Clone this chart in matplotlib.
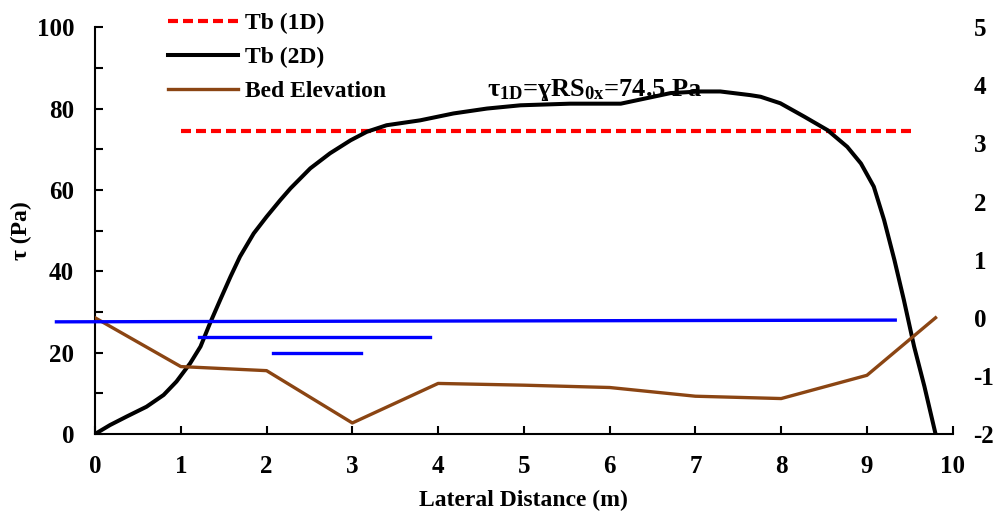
import matplotlib
matplotlib.use("Agg")
import matplotlib.pyplot as plt
from matplotlib.ticker import MultipleLocator

plt.rcParams["font.family"] = ["Liberation Serif", "DejaVu Serif"]
plt.rcParams["font.weight"] = "bold"
plt.rcParams["axes.unicode_minus"] = False
plt.rcParams["mathtext.fontset"] = "custom"
plt.rcParams["mathtext.rm"] = "Liberation Serif:bold"
plt.rcParams["mathtext.it"] = "Liberation Serif:bold"
plt.rcParams["mathtext.bf"] = "Liberation Serif:bold"

# Tb (2D): shear stress across the section (left axis, Pa)
x_2d = [0, 0.175, 0.37, 0.6, 0.8, 0.95, 1.11, 1.23, 1.34, 1.46, 1.58, 1.69, 1.85,
        2.0, 2.16, 2.28, 2.51, 2.74, 2.98, 3.17, 3.4, 3.79, 4.18, 4.57, 4.96,
        5.54, 6.13, 6.51, 6.71, 7.06, 7.29, 7.64, 7.76, 7.99, 8.27, 8.54, 8.77,
        8.93, 9.08, 9.2, 9.32, 9.43, 9.55, 9.67, 9.8]
tau_2d = [0, 2.2, 4.3, 6.7, 9.6, 12.9, 17.4, 21.5, 27.2, 33, 38.7, 43.6, 49.3,
          53.4, 57.5, 60.4, 65.3, 69, 72.2, 74.3, 75.9, 77.1, 78.8, 80, 80.8,
          81.2, 81.2, 82.9, 83.8, 84.2, 84.2, 83.3, 82.9, 81.3, 78, 74.7, 70.6,
          66.5, 60.8, 52.6, 42.8, 33, 21.5, 11.7, 0]

# Tb (1D): constant value
x_1d = [1.0, 9.51]
tau_1d = [74.5, 74.5]

# bed elevation (right axis, m)
x_bed = [0, 1, 2, 3, 4, 5, 6, 7, 8, 9, 9.8]
z_bed = [0.0, -0.84, -0.91, -1.81, -1.13, -1.16, -1.2, -1.35, -1.39, -0.99, 0.0]

# water level marks (right axis)
x_ws = [-0.45, 9.33]
z_ws = [-0.07, -0.04]
x_ws2 = [1.21, 3.91]
z_ws2 = [-0.33, -0.33]
x_ws3 = [2.07, 3.10]
z_ws3 = [-0.61, -0.61]

fig = plt.figure(figsize=(9.95, 5.13), dpi=100)
ax = fig.add_axes([0.0955, 0.154, 0.862, 0.793])
ax2 = ax.twinx()

l1, = ax.plot(x_1d, tau_1d, color="red", lw=3, ls=(0, (2.4, 1.2)), label="Tb (1D)")
l2, = ax.plot(x_2d, tau_2d, color="black", lw=2.9, label="Tb (2D)",
              solid_joinstyle="round")
l3, = ax2.plot(x_bed, z_bed, color="#8B4513", lw=2.4, label="Bed Elevation")
for xs, zs in [(x_ws, z_ws), (x_ws2, z_ws2), (x_ws3, z_ws3)]:
    ax2.plot(xs, zs, color="blue", lw=2.4, clip_on=False)

ax.set_xlim(0, 10)
ax.set_ylim(0, 100)
ax2.set_ylim(-2, 5)
ax.xaxis.set_major_locator(MultipleLocator(1))
ax.yaxis.set_major_locator(MultipleLocator(20))
ax.yaxis.set_minor_locator(MultipleLocator(10))
ax2.yaxis.set_major_locator(MultipleLocator(1))

for a in (ax, ax2):
    for s in ("top", "right"):
        a.spines[s].set_visible(False)
ax2.spines["left"].set_visible(False)
ax2.spines["bottom"].set_visible(False)
ax.spines["left"].set_linewidth(1.5)
ax.spines["bottom"].set_linewidth(1.5)

ax.tick_params(axis="both", which="major", direction="in", length=6, width=1.5,
               labelsize=18)
ax.tick_params(axis="y", which="minor", direction="in", length=6, width=1.5)
ax.tick_params(axis="y", pad=15)
ax.tick_params(axis="x", pad=15)
ax2.tick_params(axis="y", length=0, labelsize=18, pad=15)

ax.set_xlabel("Lateral Distance (m)", fontsize=17, fontweight="bold", labelpad=9)
ax.set_ylabel("τ (Pa)", fontsize=17, fontweight="bold", labelpad=3)

ax.text(5.83, 84.5, "τ$_{\\rm 1D}$=ɣRS$_{\\rm 0x}$=74.5 Pa", fontsize=19,
        fontweight="bold", ha="center", va="center")

fig.legend(handles=[l1, l2, l3], loc="upper left", bbox_to_anchor=(0.169, 0.975),
           frameon=False, fontsize=17, handlelength=2.97, handletextpad=0.3,
           labelspacing=0.53, borderpad=0, borderaxespad=0)

fig.savefig("out.png", dpi=100)
